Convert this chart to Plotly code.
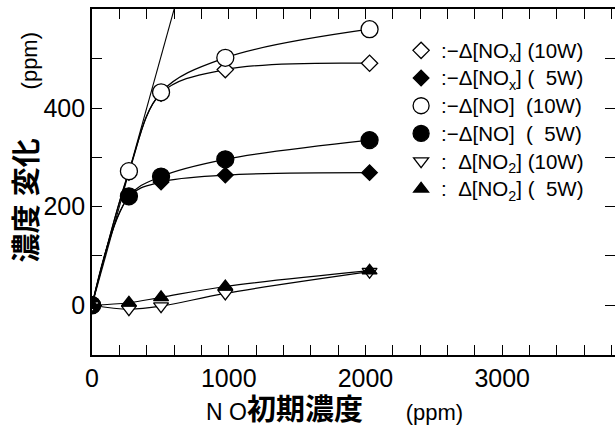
import plotly.graph_objects as go

# ---- data ----
no_initial = [0, 270, 505, 975, 2030]          # NO initial concentration (ppm)
nox_10w = [0, 270, 430, 478, 491]              # -Δ[NOx] (10W)
nox_5w = [0, 220, 250, 264, 269]               # -Δ[NOx] (5W)
no_10w = [0, 272, 432, 502, 560]               # -Δ[NO] (10W)
no_5w = [0, 221, 261, 296, 335]                # -Δ[NO] (5W)
no2_10w = [0, -8, -2, 24, 68]                  # Δ[NO2] (10W)
no2_5w = [0, 5, 16, 38, 70]                    # Δ[NO2] (5W)
unity_line = [0, 700]                          # 1:1 reference line

x_tickvals = list(range(0, 4000, 200))
x_ticktext = ["0" if v == 0 else (str(v) if v % 1000 == 0 else "") for v in x_tickvals]
y_tickvals = [0, 100, 200, 300, 400, 500]
y_ticktext = ["0", "", "200", "", "400", ""]

NB = "\u00a0"
series = [
    (":−Δ[NO<sub>x</sub>]" + NB + "(10W)", nox_10w, "diamond", "white", 12.5),
    (":−Δ[NO<sub>x</sub>]" + NB + "(" + NB * 2 + "5W)", nox_5w, "diamond", "black", 12),
    (":−Δ[NO]" + NB * 2 + "(10W)", no_10w, "circle", "white", 17),
    (":−Δ[NO]" + NB * 2 + "(" + NB * 2 + "5W)", no_5w, "circle", "black", 17),
    (":" + NB * 2 + "Δ[NO<sub>2</sub>]" + NB + "(10W)", no2_10w, "triangle-down", "white", 13),
    (":" + NB * 2 + "Δ[NO<sub>2</sub>]" + NB + "(" + NB * 2 + "5W)", no2_5w, "triangle-up", "black", 13),
]

fig = go.Figure()

fig.add_trace(go.Scatter(x=unity_line, y=unity_line, mode="lines",
                         line=dict(color="black", width=1.1), showlegend=False, hoverinfo="skip"))

for name, ys, sym, fill, size in series:
    fig.add_trace(go.Scatter(x=no_initial, y=ys, mode="lines",
                             line=dict(color="black", width=1.2, shape="spline", smoothing=1.0),
                             showlegend=False, hoverinfo="skip"))

for name, ys, sym, fill, size in series:
    fig.add_trace(go.Scatter(x=no_initial, y=ys, mode="markers",
                             name='<span style="font-size:20.5px">' + name + "</span>",
                             marker=dict(symbol=sym, size=size, color=fill,
                                         line=dict(color="black", width=1.3)),
                             showlegend=True))

axis_common = dict(showline=True, linecolor="black", linewidth=1.6, mirror="ticks",
                   ticks="inside", ticklen=10, tickwidth=1.2, tickcolor="black",
                   showgrid=False, zeroline=False, automargin=False,
                   tickfont=dict(family="Liberation Sans, Arial, sans-serif", size=25, color="black"))

fig.update_xaxes(range=[0, 3825], tickmode="array", tickvals=x_tickvals, ticktext=x_ticktext,
                 **axis_common)
fig.update_yaxes(range=[-101, 601], tickmode="array", tickvals=y_tickvals, ticktext=y_ticktext,
                 **axis_common)

CJK = '<span style="font-size:29px"><b>{}</b></span>'
fig.update_layout(
    width=615, height=429,
    margin=dict(l=92, r=0, t=9, b=74, autoexpand=False),
    paper_bgcolor="white", plot_bgcolor="white",
    font=dict(family="Liberation Sans, Noto Sans CJK JP, sans-serif", color="black"),
    legend=dict(x=0.591, y=0.935, xanchor="left", yanchor="top",
                bgcolor="rgba(0,0,0,0)", borderwidth=0,
                font=dict(family="Liberation Sans, Arial, sans-serif", size=19, color="black")),
    annotations=[
        dict(text=CJK.format("濃度 変化") + NB * 8 + "(ppm)",
             xref="paper", yref="paper", x=-0.1243, y=0.60, textangle=-90,
             showarrow=False, xanchor="center", yanchor="middle",
             font=dict(family="Liberation Sans, Noto Sans CJK JP, sans-serif", size=22, color="black")),
        dict(text='<span style="font-size:23px">N O</span>' + CJK.format("初期濃度") + NB * 7 + "(ppm)",
             xref="paper", yref="paper", x=0.4637, y=-0.159,
             showarrow=False, xanchor="center", yanchor="middle",
             font=dict(family="Liberation Sans, Noto Sans CJK JP, sans-serif", size=22, color="black")),
    ],
)

fig.write_html("out.html", config={"displayModeBar": False},
               post_script="document.body.style.margin='0';document.body.style.padding='0';")
